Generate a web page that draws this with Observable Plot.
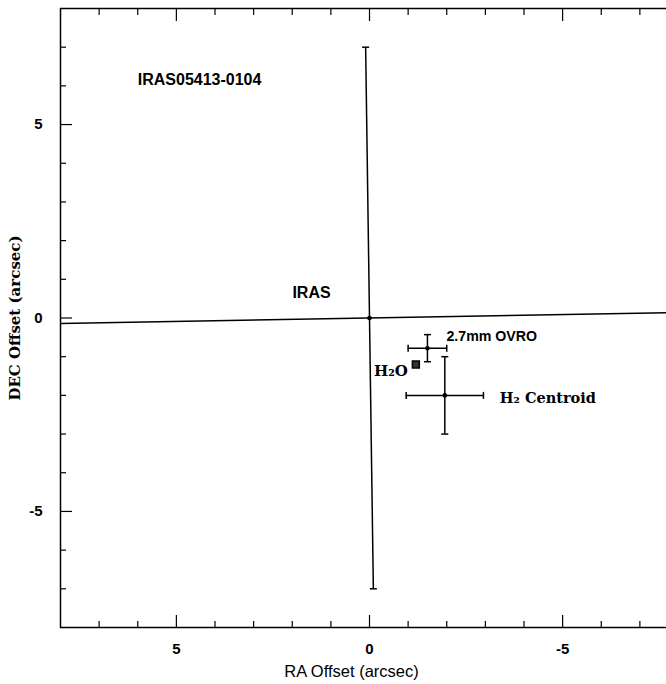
<!DOCTYPE html>
<html><head><meta charset="utf-8">
<script src="https://cdn.jsdelivr.net/npm/d3@7"></script>
<script src="https://cdn.jsdelivr.net/npm/@observablehq/plot@0.6"></script>
<style>html,body{margin:0;padding:0;overflow:hidden;background:#fff;} svg{max-width:none !important;}</style>
</head><body><div id="chart"></div>
<script>
// ---- data ----
const majorTicks = [5, 0, -5];
const minorTicks = [7, 6, 4, 3, 2, 1, -1, -2, -3, -4, -6, -7];

// IRAS position error cross (slightly rotated)
const irasArmX1 = [8, 0.1];
const irasArmY1 = [-0.14, 7];
const irasArmX2 = [-8, -0.1];
const irasArmY2 = [0.14, -7];

// sources with error bars
const srcNames = ["IRAS", "2.7mm OVRO", "H₂ Centroid"];
const srcRA = [0, -1.5, -1.95];
const srcDec = [0, -0.78, -2.0];
const srcErrRA = [null, 0.5, 1.0];
const srcErrDec = [7, 0.35, 1.0];

// H2O maser
const h2oName = "H₂O";
const h2oRA = -1.2;
const h2oDec = -1.2;

// target label
const targetName = "IRAS05413-0104";
const targetLabelRA = 6.0;
const targetLabelDec = 6.15;

// ---- build ----
const src = srcNames.map((name, i) => ({name, ra: srcRA[i], dec: srcDec[i], era: srcErrRA[i], edec: srcErrDec[i]}));
const barsV = src.slice(1).map(d => ({x: d.ra, y1: d.dec - d.edec, y2: d.dec + d.edec}));
const barsH = src.slice(1).map(d => ({y: d.dec, x1: d.ra - d.era, x2: d.ra + d.era}));
const capsH = [
  ...src.slice(1).flatMap(d => [{x: d.ra, y: d.dec - d.edec}, {x: d.ra, y: d.dec + d.edec}]),
  {x: irasArmX1[1], y: irasArmY1[1]}, {x: irasArmX2[1], y: irasArmY2[1]}
];
const capsV = src.slice(1).flatMap(d => [{x: d.ra - d.era, y: d.dec}, {x: d.ra + d.era, y: d.dec}]);
const irasArms = irasArmX1.map((x1, i) => ({x1, y1: irasArmY1[i], x2: irasArmX2[i], y2: irasArmY2[i]}));

const hLine = {draw(ctx, size) { const r = Math.sqrt(size / Math.PI); ctx.moveTo(-r, 0); ctx.lineTo(r, 0); }};
const vLine = {draw(ctx, size) { const r = Math.sqrt(size / Math.PI); ctx.moveTo(0, -r); ctx.lineTo(0, r); }};

const sans = "'Liberation Sans', Arial, Helvetica, sans-serif";
const serif = "'DejaVu Serif', 'Century Schoolbook', serif";
const tickFont = {fontFamily: sans, fontWeight: "bold", fontSize: 15};
const fmt = d => String(d);

const chart = Plot.plot({
  width: 678, height: 684,
  marginLeft: 60, marginRight: 0, marginTop: 8, marginBottom: 57,
  style: {background: "#fff", color: "#000", maxWidth: "none"},
  x: {domain: [8, -8]},
  y: {domain: [-8, 8]},
  marks: [
    Plot.frame({strokeWidth: 1.5}),
    ...["bottom", "top"].flatMap(anchor => [
      Plot.axisX(minorTicks, {anchor, tickSize: -6, fill: "none", label: null, strokeWidth: 1.2}),
      Plot.axisX(majorTicks, {anchor, tickSize: -12, fill: "none", label: null, strokeWidth: 1.2})
    ]),
    ...["left", "right"].flatMap(anchor => [
      Plot.axisY(minorTicks, {anchor, tickSize: -6, fill: "none", label: null, strokeWidth: 1.2}),
      Plot.axisY(majorTicks, {anchor, tickSize: -12, fill: "none", label: null, strokeWidth: 1.2})
    ]),
    Plot.axisX(majorTicks, {anchor: "bottom", tickSize: 0, tickPadding: 16, label: null, tickFormat: fmt, ...tickFont}),
    Plot.axisY(majorTicks, {anchor: "left", tickSize: 0, tickPadding: 18, label: null, tickFormat: fmt, ...tickFont}),
    Plot.text(["RA Offset (arcsec)"], {frameAnchor: "bottom", dy: 44, dx: -18, textAnchor: "middle", lineAnchor: "middle", fontFamily: sans, fontSize: 16.5}),
    Plot.text(["DEC Offset (arcsec)"], {frameAnchor: "left", dx: -45, rotate: -90, textAnchor: "middle", lineAnchor: "middle", fontFamily: serif, fontWeight: "bold", fontSize: 15}),

    // IRAS cross
    Plot.link(irasArms, {x1: "x1", y1: "y1", x2: "x2", y2: "y2", strokeWidth: 1.5}),
    // error bars
    Plot.ruleX(barsV, {x: "x", y1: "y1", y2: "y2", strokeWidth: 1.5}),
    Plot.ruleY(barsH, {y: "y", x1: "x1", x2: "x2", strokeWidth: 1.5}),
    Plot.dot(capsH, {x: "x", y: "y", r: 3.5, symbol: hLine, stroke: "#000", strokeWidth: 1.5, fill: "none"}),
    Plot.dot(capsV, {x: "x", y: "y", r: 3.5, symbol: vLine, stroke: "#000", strokeWidth: 1.5, fill: "none"}),
    Plot.dot(src, {x: "ra", y: "dec", r: 2.3, fill: "#000", stroke: "none"}),
    // H2O maser
    Plot.dot([{ra: h2oRA, dec: h2oDec}], {x: "ra", y: "dec", symbol: "square", r: 3.9, fill: "#333", stroke: "#000", strokeWidth: 1.5}),

    // labels
    Plot.text([src[0]], {x: "ra", y: "dec", text: "name", dx: -58, dy: -25, fontFamily: sans, fontWeight: "bold", fontSize: 16}),
    Plot.text([src[1]], {x: "ra", y: "dec", text: "name", dx: 19, dy: -12, textAnchor: "start", fontFamily: sans, fontWeight: "bold", fontSize: 14.2}),
    Plot.text([src[2]], {x: "ra", y: "dec", text: "name", dx: 55, dy: 3, textAnchor: "start", fontFamily: serif, fontWeight: "bold", fontSize: 14.5}),
    Plot.text([{ra: h2oRA, dec: h2oDec, name: h2oName}], {x: "ra", y: "dec", text: "name", dx: -8, dy: 7, textAnchor: "end", fontFamily: serif, fontWeight: "bold", fontSize: 15}),
    Plot.text([{ra: targetLabelRA, dec: targetLabelDec, name: targetName}], {x: "ra", y: "dec", text: "name", textAnchor: "start", fontFamily: sans, fontWeight: "bold", fontSize: 16})
  ]
});
document.getElementById("chart").appendChild(chart);
</script>
</body></html>
